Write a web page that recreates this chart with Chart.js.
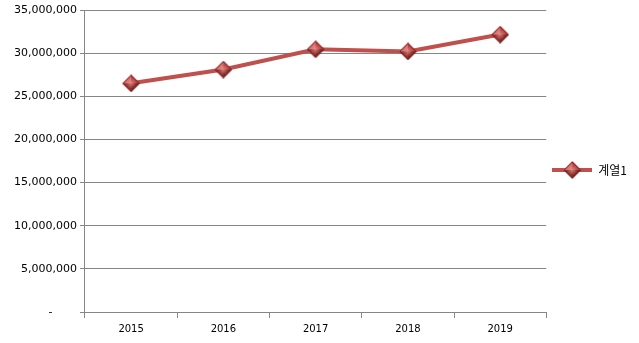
<!DOCTYPE html>
<html><head><meta charset="utf-8">
<script src="https://cdn.jsdelivr.net/npm/chart.js@4.4.1/dist/chart.umd.min.js"></script>
<style>html,body{margin:0;padding:0;background:#fff;}#wrap{width:639px;height:343px;}</style>
</head><body><div id="wrap"><canvas id="c" width="639" height="343"></canvas></div>
<script>
const categories = ['2015','2016','2017','2018','2019'];
const seriesName = '계열1';
const values = [26500000, 28100000, 30450000, 30200000, 32150000];
const yTicks = [0, 5000000, 10000000, 15000000, 20000000, 25000000, 30000000, 35000000];

function makeMarker(size){
  const c = document.createElement('canvas');
  c.width = size; c.height = size;
  const g = c.getContext('2d');
  const h = size/2;
  const faces = [
    [[h,0],[size,h],[h,h]],
    [[size,h],[h,size],[h,h]],
    [[h,size],[0,h],[h,h]],
    [[0,h],[h,0],[h,h]]
  ];
  const cols = ['#B8423F','#7E2523','#93302D','#D7706C'];
  faces.forEach((f,i)=>{g.beginPath();g.moveTo(f[0][0],f[0][1]);g.lineTo(f[1][0],f[1][1]);g.lineTo(f[2][0],f[2][1]);g.closePath();g.fillStyle=cols[i];g.fill();});
  const rg = g.createRadialGradient(h,h,0,h,h,h*0.6);
  rg.addColorStop(0,'rgba(240,160,155,0.7)');rg.addColorStop(1,'rgba(240,160,155,0)');
  g.beginPath();g.moveTo(h,1);g.lineTo(size-1,h);g.lineTo(h,size-1);g.lineTo(1,h);g.closePath();
  g.fillStyle=rg;g.fill();
  g.strokeStyle='#6E2220';g.lineWidth=1;g.stroke();
  return c;
}
const marker = makeMarker(18);
function makeLegendIcon(){
  const c = document.createElement('canvas');
  c.width = 40; c.height = 18;
  const g = c.getContext('2d');
  g.strokeStyle='#C0504D'; g.lineWidth=4;
  g.beginPath(); g.moveTo(0,9); g.lineTo(40,9); g.stroke();
  g.drawImage(marker,11,0);
  return c;
}
const legendIcon = makeLegendIcon();

new Chart(document.getElementById('c'), {
  type: 'line',
  data: { labels: categories, datasets: [{
    label: seriesName, data: values,
    borderColor: '#C0504D', borderWidth: 4,
    pointStyle: marker, pointRadius: 9, pointHoverRadius: 9,
    tension: 0, fill: false
  }]},
  options: {
    responsive: false, animation: false, devicePixelRatio: 1,
    layout: { autoPadding: false, padding: { top: 0, left: 11, right: 2, bottom: 3 } },
    plugins: {
      tooltip: { enabled: false },
      legend: {
        position: 'right',
        labels: {
          usePointStyle: true, pointStyleWidth: 40, boxHeight: 18,
          font: { family: 'Noto Sans CJK KR', size: 12 }, color: '#000',
          padding: 6,
          generateLabels: (chart) => chart.data.datasets.map((d,i)=>({
            text: d.label, pointStyle: legendIcon, fillStyle: '#C0504D', strokeStyle: '#C0504D',
            lineWidth: 0, hidden: false, datasetIndex: i, fontColor: '#000'
          }))
        }
      }
    },
    scales: {
      x: {
        offset: true,
        grid: { offset: true, drawOnChartArea: false, drawTicks: true, tickLength: 6, color: '#868686' },
        border: { display: true, color: '#868686', width: 1 },
        ticks: { color: '#000', font: { family: 'DejaVu Sans', size: 10 }, padding: 5 }
      },
      y: {
        min: 0, max: 35000000,
        afterBuildTicks: (axis) => { axis.ticks = yTicks.map(v => ({ value: v })); },
        afterFit: (axis) => { axis.paddingTop = 10; axis.paddingBottom = 0; },
        grid: { color: '#868686', drawTicks: true, tickLength: 5 },
        border: { display: true, color: '#868686', width: 1 },
        ticks: {
          color: '#000', font: { family: 'DejaVu Sans', size: 11 }, padding: 3,
          callback: (v) => v === 0 ? '-       ' : v.toLocaleString('en-US')
        }
      }
    }
  }
});
</script></body></html>
